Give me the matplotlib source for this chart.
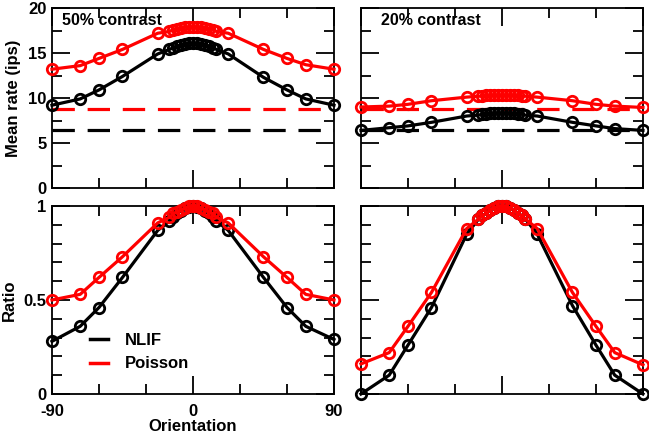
import matplotlib
matplotlib.use("Agg")
import matplotlib.pyplot as plt
from matplotlib.ticker import FixedLocator

plt.rcParams['font.family'] = ['Liberation Sans', 'DejaVu Sans']
plt.rcParams['font.weight'] = 'bold'

# Data
orient = [-90, -72, -60, -45, -22.5, -15, -12.5, -10, -7.5, -5, -2.5, 0,
          2.5, 5, 7.5, 10, 12.5, 15, 22.5, 45, 60, 72, 90]

# mean rate, 50% contrast
rate50_nlif = [9.2, 9.9, 10.9, 12.4, 14.9, 15.4, 15.6, 15.8, 15.9, 16.0, 16.1, 16.1,
               16.1, 16.0, 15.9, 15.8, 15.6, 15.4, 14.9, 12.3, 10.9, 9.9, 9.2]
rate50_pois = [13.2, 13.6, 14.4, 15.4, 17.2, 17.4, 17.6, 17.7, 17.8, 17.9, 17.9, 17.9,
               17.9, 17.9, 17.8, 17.7, 17.6, 17.4, 17.2, 15.4, 14.4, 13.7, 13.2]
base50_nlif = 6.45
base50_pois = 8.75

# mean rate, 20% contrast
rate20_nlif = [6.4, 6.7, 6.9, 7.3, 8.0, 8.1, 8.2, 8.2, 8.3, 8.3, 8.3, 8.3,
               8.3, 8.3, 8.3, 8.2, 8.2, 8.1, 8.0, 7.3, 6.9, 6.6, 6.4]
rate20_pois = [9.0, 9.1, 9.3, 9.7, 10.1, 10.2, 10.2, 10.3, 10.3, 10.3, 10.3, 10.3,
               10.3, 10.3, 10.3, 10.3, 10.2, 10.2, 10.1, 9.7, 9.3, 9.1, 8.95]
base20_nlif = 6.45
base20_pois = 8.8

# ratio
ratio50_nlif = [0.28, 0.36, 0.46, 0.62, 0.87, 0.92, 0.94, 0.96, 0.975, 0.99, 0.995, 1.0,
                0.995, 0.99, 0.975, 0.96, 0.94, 0.92, 0.87, 0.62, 0.46, 0.36, 0.29]
ratio50_pois = [0.50, 0.53, 0.62, 0.73, 0.91, 0.94, 0.96, 0.97, 0.98, 0.99, 1.0, 1.0,
                1.0, 0.99, 0.98, 0.97, 0.96, 0.94, 0.91, 0.73, 0.62, 0.53, 0.50]
ratio20_nlif = [0.0, 0.10, 0.26, 0.46, 0.85, 0.93, 0.95, 0.96, 0.98, 0.99, 1.0, 1.0,
                1.0, 0.99, 0.98, 0.96, 0.95, 0.93, 0.85, 0.47, 0.26, 0.10, 0.0]
ratio20_pois = [0.16, 0.22, 0.36, 0.54, 0.88, 0.93, 0.95, 0.96, 0.98, 0.99, 1.0, 1.0,
                1.0, 0.99, 0.98, 0.96, 0.95, 0.93, 0.88, 0.54, 0.36, 0.22, 0.155]

x_ticks = [-90, 0, 90]
x_minor = [-60, -30, 30, 60]
rate_ticks = [0, 5, 10, 15, 20]
rate_minor = [2.5, 7.5, 12.5, 17.5]
ratio_ticks = [0, 0.5, 1]
ratio_minor = [0.1, 0.2, 0.3, 0.4, 0.6, 0.7, 0.8, 0.9]

RED = '#ff0000'
fig = plt.figure(figsize=(6.49, 4.34), dpi=100)
ax_tl = fig.add_axes([0.0801, 0.5668, 0.4345, 0.4147])
ax_tr = fig.add_axes([0.5562, 0.5668, 0.4345, 0.4147])
ax_bl = fig.add_axes([0.0801, 0.0922, 0.4345, 0.4332])
ax_br = fig.add_axes([0.5562, 0.0922, 0.4345, 0.4332])


def curve(ax, y, color):
    ax.plot(orient, y, '-o', color=color, lw=2.3, ms=7.5, mfc='none', mew=2,
            clip_on=False, zorder=3)


def style(ax, top):
    ax.set_xlim(-90, 90)
    ax.xaxis.set_major_locator(FixedLocator(x_ticks))
    ax.xaxis.set_minor_locator(FixedLocator(x_minor))
    if top:
        ax.set_ylim(0, 20)
        ax.yaxis.set_major_locator(FixedLocator(rate_ticks))
        ax.yaxis.set_minor_locator(FixedLocator(rate_minor))
    else:
        ax.set_ylim(0, 1)
        ax.yaxis.set_major_locator(FixedLocator(ratio_ticks))
        ax.yaxis.set_minor_locator(FixedLocator(ratio_minor))
    ax.tick_params(which='both', direction='in', top=True, right=True,
                   width=1.3, labelsize=12)
    ax.tick_params(axis='y', pad=4)
    ax.tick_params(axis='x', pad=7)
    ax.tick_params(which='major', length=13)
    ax.tick_params(which='minor', length=7)
    for s in ax.spines.values():
        s.set_linewidth(1.3)


# top left
curve(ax_tl, rate50_nlif, 'black')
curve(ax_tl, rate50_pois, RED)
ax_tl.plot([-90, 90], [base50_nlif] * 2, color='black', lw=2.3, dashes=(7, 4))
ax_tl.plot([-90, 90], [base50_pois] * 2, color=RED, lw=2.3, dashes=(7, 4))
style(ax_tl, True)
ax_tl.set_xticklabels([])
ax_tl.set_yticklabels([str(v) for v in rate_ticks])
ax_tl.set_ylabel('Mean rate (ips)', fontsize=12, fontweight='bold', labelpad=5)
ax_tl.text(0.035, 0.93, '50% contrast', transform=ax_tl.transAxes,
           fontsize=11.5, fontweight='bold', va='center')

# top right
curve(ax_tr, rate20_nlif, 'black')
curve(ax_tr, rate20_pois, RED)
ax_tr.plot([-90, 90], [base20_nlif] * 2, color='black', lw=2.3, dashes=(7, 4))
ax_tr.plot([-90, 90], [base20_pois] * 2, color=RED, lw=2.3, dashes=(7, 4))
style(ax_tr, True)
ax_tr.set_xticklabels([])
ax_tr.set_yticklabels([])
ax_tr.text(0.07, 0.93, '20% contrast', transform=ax_tr.transAxes,
           fontsize=11.5, fontweight='bold', va='center')

# bottom left
curve(ax_bl, ratio50_nlif, 'black')
curve(ax_bl, ratio50_pois, RED)
style(ax_bl, False)
ax_bl.set_yticklabels(['0', '0.5', '1'])
ax_bl.set_xticklabels(['-90', '0', '90'])
ax_bl.set_ylabel('Ratio', fontsize=12, fontweight='bold', labelpad=5)
ax_bl.set_xlabel('Orientation', fontsize=12, fontweight='bold', labelpad=0)
ax_bl.plot([], [], color='black', lw=2.5, label='NLIF')
ax_bl.plot([], [], color=RED, lw=2.5, label='Poisson')
ax_bl.legend(loc='lower left', bbox_to_anchor=(0.08, 0.04), frameon=False,
             handlelength=1.1, handletextpad=1.0, labelspacing=0.5,
             prop={'weight': 'bold', 'size': 12})

# bottom right
curve(ax_br, ratio20_nlif, 'black')
curve(ax_br, ratio20_pois, RED)
style(ax_br, False)
ax_br.set_xticklabels([])
ax_br.set_yticklabels([])

fig.align_ylabels([ax_tl, ax_bl])
fig.savefig('out.png', dpi=100)
